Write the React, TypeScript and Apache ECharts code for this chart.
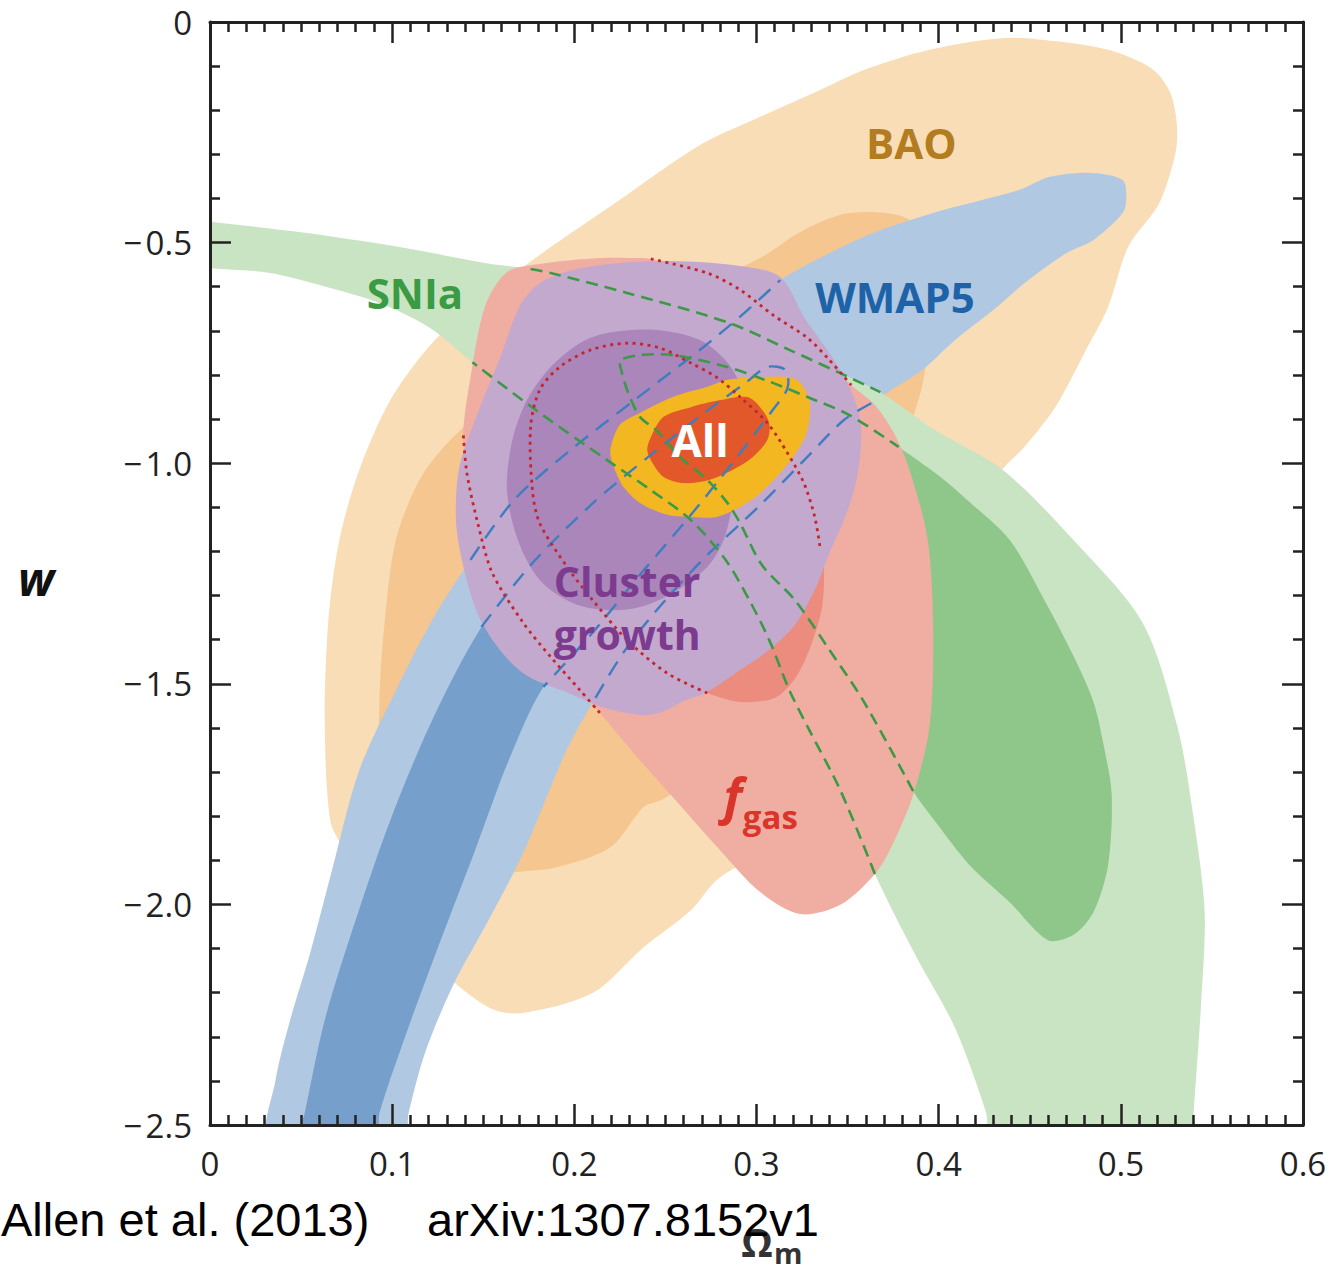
import React, { useEffect, useRef } from "react";
import * as echarts from "echarts";

type Pt = [number, number];

// Axis ranges and tick values
const xTicks = [0, 0.1, 0.2, 0.3, 0.4, 0.5, 0.6];
const yTicks = [0, -0.5, -1.0, -1.5, -2.0, -2.5];

// ---- BAO confidence regions (Omega_m, w) ----
const baoOuter: Pt[] = [
  [0.436, -0.036], [0.467, -0.045], [0.493, -0.063], [0.511, -0.091], [0.520, -0.116], [0.527, -0.159],
  [0.530, -0.206], [0.531, -0.256], [0.530, -0.297], [0.526, -0.358], [0.520, -0.419], [0.504, -0.510],
  [0.493, -0.646], [0.480, -0.750], [0.464, -0.873], [0.447, -0.963], [0.436, -1.009], [0.412, -1.129],
  [0.379, -1.355], [0.340, -1.673], [0.302, -1.877], [0.278, -1.945], [0.264, -2.013], [0.238, -2.097],
  [0.210, -2.201], [0.172, -2.246], [0.156, -2.239], [0.137, -2.187], [0.115, -2.103], [0.093, -1.990],
  [0.074, -1.877], [0.066, -1.809], [0.063, -1.582], [0.065, -1.355], [0.071, -1.174], [0.082, -1.015],
  [0.099, -0.857], [0.121, -0.732], [0.148, -0.630], [0.181, -0.528], [0.225, -0.403], [0.269, -0.279],
  [0.302, -0.215], [0.335, -0.154], [0.359, -0.109], [0.395, -0.063],
];
const baoInner: Pt[] = [
  [0.302, -0.535], [0.324, -0.476], [0.346, -0.437], [0.365, -0.431], [0.382, -0.444], [0.395, -0.494],
  [0.398, -0.630], [0.394, -0.750], [0.390, -0.841], [0.379, -0.970], [0.357, -1.174], [0.324, -1.423],
  [0.280, -1.673], [0.248, -1.763], [0.238, -1.779], [0.220, -1.870], [0.191, -1.915], [0.162, -1.929],
  [0.137, -1.945], [0.115, -1.945], [0.102, -1.899], [0.094, -1.763], [0.093, -1.537], [0.096, -1.355],
  [0.102, -1.174], [0.115, -1.038], [0.132, -0.947], [0.170, -0.811], [0.225, -0.675], [0.269, -0.596],
];

// ---- WMAP5 ----
const wmOuterLeftVisible: Pt[] = [
  [0.033, -2.534], [0.036, -2.398], [0.044, -2.262], [0.055, -2.110], [0.067, -1.922], [0.082, -1.695],
  [0.103, -1.507], [0.122, -1.355],
];
const wmOuterLeftHidden: Pt[] = [
  [0.143, -1.219], [0.167, -1.083], [0.198, -0.970], [0.233, -0.857], [0.269, -0.743], [0.294, -0.657],
  [0.313, -0.585],
];
const wmOuterTopArm: Pt[] = [
  [0.359, -0.487], [0.397, -0.433], [0.444, -0.381], [0.461, -0.351], [0.484, -0.342], [0.501, -0.358],
  [0.503, -0.397], [0.501, -0.433], [0.485, -0.494], [0.470, -0.524], [0.447, -0.592], [0.432, -0.646],
  [0.409, -0.721], [0.391, -0.789], [0.374, -0.834],
];
const wmOuterRightHidden: Pt[] = [
  [0.363, -0.864], [0.348, -0.902], [0.329, -0.981], [0.302, -1.095], [0.274, -1.204], [0.250, -1.310],
  [0.228, -1.423], [0.210, -1.543],
];
const wmOuterRightVisible: Pt[] = [
  [0.195, -1.657], [0.172, -1.883], [0.153, -2.035], [0.133, -2.187], [0.118, -2.337], [0.109, -2.473],
  [0.106, -2.534],
];
const wmInnerLeftVisible: Pt[] = [
  [0.049, -2.534], [0.052, -2.473], [0.063, -2.262], [0.080, -2.035], [0.099, -1.809], [0.122, -1.582],
];
const wmInnerHidden: Pt[] = [
  [0.149, -1.371], [0.176, -1.231], [0.209, -1.095], [0.242, -0.981], [0.272, -0.884], [0.294, -0.818],
  [0.306, -0.782], [0.316, -0.789], [0.317, -0.830], [0.309, -0.879], [0.288, -0.993], [0.264, -1.117],
  [0.236, -1.253], [0.209, -1.389], [0.183, -1.507],
];
const wmInnerRightVisible: Pt[] = [
  [0.164, -1.673], [0.145, -1.883], [0.124, -2.110], [0.107, -2.301], [0.093, -2.473], [0.091, -2.534],
];

// ---- SNIa ----
const snOuterUpperLeft: Pt[] = [
  [-0.011, -0.449], [0, -0.453], [0.049, -0.476], [0.104, -0.510], [0.151, -0.546],
];
const snOuterUpperHidden: Pt[] = [
  [0.176, -0.560], [0.187, -0.569], [0.229, -0.614], [0.285, -0.682], [0.318, -0.743], [0.346, -0.796],
  [0.368, -0.839],
];
const snOuterRight: Pt[] = [
  [0.398, -0.925], [0.435, -1.015], [0.474, -1.174], [0.512, -1.362], [0.531, -1.596], [0.540, -1.806],
  [0.546, -2.017], [0.544, -2.228], [0.540, -2.471], [0.539, -2.545], [0.430, -2.545], [0.426, -2.471],
  [0.409, -2.280], [0.388, -2.121],
];
const snOuterLowerHidden: Pt[] = [
  [0.365, -1.931], [0.346, -1.741], [0.329, -1.605], [0.318, -1.514], [0.307, -1.401], [0.296, -1.310],
  [0.283, -1.219], [0.264, -1.129], [0.242, -1.061], [0.218, -0.993], [0.181, -0.886], [0.144, -0.771],
];
const snOuterLowerLeft: Pt[] = [
  [0.121, -0.694], [0.093, -0.637], [0.066, -0.603], [0.033, -0.569], [0, -0.558], [-0.011, -0.555],
];
const snInnerHidden: Pt[] = [
  [0.386, -1.743], [0.359, -1.541], [0.340, -1.423], [0.321, -1.310], [0.303, -1.231], [0.291, -1.136],
  [0.284, -1.090], [0.273, -1.038], [0.258, -0.986], [0.245, -0.925], [0.236, -0.895], [0.229, -0.834],
  [0.225, -0.777], [0.225, -0.766], [0.236, -0.755], [0.254, -0.755], [0.284, -0.782], [0.309, -0.818],
  [0.328, -0.850], [0.351, -0.891], [0.378, -0.963],
];
const snInnerVisible: Pt[] = [
  [0.401, -1.031], [0.417, -1.088], [0.439, -1.174], [0.458, -1.310], [0.474, -1.437], [0.485, -1.541],
  [0.491, -1.648], [0.495, -1.752], [0.493, -1.911], [0.485, -2.017], [0.474, -2.069], [0.460, -2.081],
  [0.439, -1.995], [0.417, -1.911], [0.397, -1.806],
];

// ---- f_gas ----
const fgOuterVisibleTop: Pt[] = [[0.163, -0.567], [0.182, -0.548], [0.214, -0.535], [0.236, -0.535]];
const fgOuterHiddenTop: Pt[] = [
  [0.242, -0.537], [0.273, -0.569], [0.291, -0.607], [0.309, -0.664], [0.328, -0.716], [0.340, -0.766],
  [0.352, -0.823],
];
const fgOuterVisibleRight: Pt[] = [
  [0.365, -0.868], [0.376, -0.936], [0.384, -1.015], [0.394, -1.174], [0.397, -1.385], [0.395, -1.596],
  [0.386, -1.752], [0.374, -1.870], [0.365, -1.931], [0.346, -2.001], [0.324, -2.022], [0.302, -1.972],
  [0.280, -1.877], [0.258, -1.775], [0.236, -1.673], [0.214, -1.566],
];
const fgOuterHiddenLeft: Pt[] = [
  [0.203, -1.514], [0.187, -1.439], [0.172, -1.362], [0.155, -1.249], [0.147, -1.136], [0.141, -1.022],
  [0.139, -0.932],
];
const fgOuterVisibleLeft: Pt[] = [[0.143, -0.805], [0.151, -0.644]];
const fgInnerHidden: Pt[] = [
  [0.273, -1.521], [0.251, -1.476], [0.229, -1.401], [0.210, -1.310], [0.196, -1.235], [0.181, -1.136],
  [0.177, -1.061], [0.176, -0.918], [0.181, -0.834], [0.192, -0.782], [0.209, -0.743], [0.229, -0.728],
  [0.247, -0.739], [0.264, -0.773], [0.278, -0.805], [0.291, -0.850], [0.306, -0.909], [0.317, -0.977],
  [0.326, -1.045], [0.332, -1.122], [0.335, -1.194],
];
const fgInnerVisible: Pt[] = [
  [0.337, -1.226], [0.336, -1.326], [0.329, -1.423], [0.321, -1.489], [0.310, -1.532], [0.291, -1.541],
];

// ---- Cluster growth ----
const clOuter: Pt[] = [
  [0.170, -0.644], [0.181, -0.592], [0.199, -0.562], [0.225, -0.546], [0.258, -0.542], [0.291, -0.553],
  [0.313, -0.578], [0.327, -0.675], [0.340, -0.750], [0.351, -0.827], [0.357, -0.902], [0.357, -0.977],
  [0.354, -1.054], [0.348, -1.129], [0.340, -1.204], [0.332, -1.287], [0.321, -1.367], [0.307, -1.423],
  [0.291, -1.469], [0.272, -1.521], [0.260, -1.539], [0.248, -1.564], [0.237, -1.571], [0.217, -1.555],
  [0.198, -1.523], [0.174, -1.482], [0.159, -1.423], [0.147, -1.342], [0.139, -1.233], [0.135, -1.129],
  [0.137, -1.006], [0.147, -0.886], [0.159, -0.764],
];
const clInner: Pt[] = [
  [0.203, -0.728], [0.218, -0.705], [0.245, -0.698], [0.269, -0.721], [0.285, -0.777], [0.294, -0.857],
  [0.296, -0.970], [0.294, -1.038], [0.287, -1.099], [0.282, -1.174], [0.273, -1.235], [0.254, -1.294],
  [0.236, -1.326], [0.218, -1.333], [0.199, -1.317], [0.181, -1.265], [0.169, -1.174], [0.163, -1.061],
  [0.166, -0.947], [0.174, -0.857], [0.187, -0.782],
];

// ---- All (combined) ----
const allOuter: Pt[] = [
  [0.220, -0.963], [0.225, -0.913], [0.236, -0.886], [0.254, -0.850], [0.273, -0.827], [0.284, -0.811],
  [0.300, -0.805], [0.318, -0.805], [0.324, -0.818], [0.329, -0.857], [0.329, -0.902], [0.326, -0.947],
  [0.320, -0.986], [0.313, -1.022], [0.302, -1.068], [0.291, -1.099], [0.278, -1.122], [0.265, -1.122],
  [0.251, -1.117], [0.236, -1.090], [0.227, -1.054], [0.223, -1.022], [0.220, -0.986],
];
const allInner: Pt[] = [
  [0.240, -0.970], [0.242, -0.941], [0.249, -0.895], [0.264, -0.873], [0.280, -0.857], [0.295, -0.850],
  [0.302, -0.873], [0.307, -0.909], [0.306, -0.947], [0.298, -0.986], [0.287, -1.015], [0.274, -1.038],
  [0.260, -1.045], [0.249, -1.031], [0.243, -1.000],
];

// Region names and anchor points
const labelTexts = ["BAO", "WMAP5", "SNIa", "Cluster", "growth", "All", "f", "gas"];
const labelAnchors: Pt[] = [
  [0.385, -0.274], [0.376, -0.623], [0.1125, -0.614], [0.229, -1.268], [0.229, -1.388],
  [0.269, -0.947], [0.287, -1.752], [0.2925, -1.800],
];

const labelStyle: Record<string, { color: string; size: number; italic?: boolean; align?: string }> = {
  BAO: { color: "#B27C1F", size: 42 },
  WMAP5: { color: "#1E63A8", size: 42 },
  SNIa: { color: "#3B9B45", size: 42 },
  Cluster: { color: "#7C3B8F", size: 41 },
  growth: { color: "#7C3B8F", size: 41 },
  All: { color: "#FFFFFF", size: 44 },
  f: { color: "#D9352B", size: 50, italic: true },
  gas: { color: "#D9352B", size: 33, align: "left" },
};

const FONT = '"Open Sans", "Noto Sans", sans-serif';

function fillSeries(pts: Pt[], fill: string, z: number) {
  return {
    type: "custom",
    coordinateSystem: "cartesian2d",
    clip: true,
    silent: true,
    z,
    data: pts,
    renderItem: (params: any, api: any) => {
      if (params.dataIndex !== 0) return null;
      const points = pts.map((p) => api.coord(p));
      return {
        type: "polygon",
        shape: { points, smooth: 0.3 },
        style: { fill, stroke: "none" },
      };
    },
  };
}

function lineSeries(pts: Pt[], stroke: string, dash: number[], width: number, z: number) {
  return {
    type: "custom",
    coordinateSystem: "cartesian2d",
    clip: true,
    silent: true,
    z,
    data: pts,
    renderItem: (params: any, api: any) => {
      if (params.dataIndex !== 0) return null;
      const points = pts.map((p) => api.coord(p));
      return {
        type: "polyline",
        shape: { points, smooth: 0.3 },
        style: { fill: "none", stroke, lineWidth: width, lineDash: dash, lineCap: "butt" },
      };
    },
  };
}

function axisCommon(extra: any) {
  return {
    type: "value",
    z: 50,
    axisLine: { show: true, onZero: false, lineStyle: { color: "#222", width: 3 } },
    axisTick: { show: true, inside: true, length: 21, lineStyle: { color: "#222", width: 2.5 } },
    splitLine: { show: false },
    minorSplitLine: { show: false },
    ...extra,
  };
}

const fmtX = (v: number) => (Math.abs(v) < 1e-9 ? "0" : v.toFixed(1));
const fmtY = (v: number) => (Math.abs(v) < 1e-9 ? "0" : "\u2212\u200A" + Math.abs(v).toFixed(1));

const tickLabel = { color: "#222", fontFamily: FONT, fontSize: 33 };

function centeredText(text: string, x: number, y: number, font: string, fill: string, align = "center") {
  return {
    type: "text",
    x,
    y,
    style: {
      text,
      fill,
      font,
      textAlign: align,
      textVerticalAlign: "middle",
      align,
      verticalAlign: "middle",
    },
  };
}

function buildOption() {
  const wmOuter = [...wmOuterLeftVisible, ...wmOuterLeftHidden, ...wmOuterTopArm, ...wmOuterRightHidden, ...wmOuterRightVisible];
  const wmInner = [...wmInnerLeftVisible, ...wmInnerHidden, ...wmInnerRightVisible];
  const snOuter = [...snOuterUpperLeft, ...snOuterUpperHidden, ...snOuterRight, ...snOuterLowerHidden, ...snOuterLowerLeft];
  const snInner = [...snInnerHidden, ...snInnerVisible];
  const fgOuter = [...fgOuterVisibleTop, ...fgOuterHiddenTop, ...fgOuterVisibleRight, ...fgOuterHiddenLeft, ...fgOuterVisibleLeft];
  const fgInner = [...fgInnerHidden, ...fgInnerVisible];

  const blue = "#3F7DC0";
  const green = "#3A9A46";
  const red = "#C4262E";
  const minorX = { show: true, splitNumber: 10, length: 10, lineStyle: { color: "#222", width: 2.5 } };
  const minorY = { show: true, splitNumber: 5, length: 10, lineStyle: { color: "#222", width: 2.5 } };

  return {
    animation: false,
    backgroundColor: "#ffffff",
    grid: { left: 210, top: 22, right: 29, bottom: 147, containLabel: false },
    xAxis: [
      axisCommon({
        position: "bottom",
        min: xTicks[0],
        max: xTicks[xTicks.length - 1],
        interval: 0.1,
        minorTick: minorX,
        axisLabel: { ...tickLabel, margin: 22, formatter: fmtX },
      }),
      axisCommon({
        position: "top",
        min: xTicks[0],
        max: xTicks[xTicks.length - 1],
        interval: 0.1,
        minorTick: minorX,
        axisLabel: { show: false },
      }),
    ],
    yAxis: [
      axisCommon({
        position: "left",
        min: yTicks[yTicks.length - 1],
        max: yTicks[0],
        interval: 0.5,
        minorTick: minorY,
        axisLabel: { ...tickLabel, margin: 18, formatter: fmtY },
      }),
      axisCommon({
        position: "right",
        min: yTicks[yTicks.length - 1],
        max: yTicks[0],
        interval: 0.5,
        minorTick: minorY,
        axisLabel: { show: false },
      }),
    ],
    series: [
      fillSeries(baoOuter, "#F9DDB6", 1),
      fillSeries(baoInner, "#F5C690", 2),
      fillSeries(wmOuter, "#B1C8E2", 3),
      fillSeries(wmInner, "#769FCB", 4),
      fillSeries(snOuter, "#C9E4C3", 5),
      fillSeries(snInner, "#8FC78A", 6),
      fillSeries(fgOuter, "#F0ADA1", 7),
      fillSeries(fgInner, "#EC8C7F", 8),
      fillSeries(clOuter, "#C3A9CE", 9),
      fillSeries(clInner, "#AA86BB", 10),
      fillSeries(allOuter, "#F3B722", 11),
      fillSeries(allInner, "#E2582B", 12),
      // covered parts of the contours, drawn as outlines on top
      lineSeries(wmOuterLeftHidden, blue, [16, 10], 2.4, 20),
      lineSeries(wmOuterRightHidden, blue, [16, 10], 2.4, 20),
      lineSeries(wmInnerHidden, blue, [16, 10], 2.4, 20),
      lineSeries(snOuterUpperHidden, green, [12, 7], 2.6, 21),
      lineSeries(snOuterLowerHidden, green, [12, 7], 2.6, 21),
      lineSeries(snInnerHidden, green, [12, 7], 2.6, 21),
      lineSeries(fgOuterHiddenTop, red, [3, 4.5], 2.8, 22),
      lineSeries([fgOuterVisibleRight[fgOuterVisibleRight.length - 1], ...fgOuterHiddenLeft], red, [3, 4.5], 2.8, 22),
      lineSeries(fgInnerHidden, red, [3, 4.5], 2.8, 22),
      {
        type: "custom",
        coordinateSystem: "cartesian2d",
        silent: true,
        z: 30,
        data: labelAnchors,
        renderItem: (params: any, api: any) => {
          const text = labelTexts[params.dataIndex];
          const st = labelStyle[text];
          const [x, y] = api.coord(labelAnchors[params.dataIndex]);
          return centeredText(
            text,
            x,
            y,
            `${st.italic ? "italic " : ""}700 ${st.size}px ${FONT}`,
            st.color,
            st.align || "center"
          );
        },
      },
    ],
    graphic: [
      centeredText("w", 36, 578, `italic 700 46px ${FONT}`, "#111"),
      centeredText("\u03A9", 757, 1241, `700 40px ${FONT}`, "#333"),
      centeredText("m", 774, 1252, `700 29px ${FONT}`, "#333", "left"),
      centeredText("Allen et al. (2013)", 1, 1219, `400 47px "Liberation Sans", Arial, sans-serif`, "#000", "left"),
      centeredText("arXiv:1307.8152v1", 427, 1219, `400 47px "Liberation Sans", Arial, sans-serif`, "#000", "left"),
    ],
  };
}

export default function App() {
  const ref = useRef<HTMLDivElement>(null);
  useEffect(() => {
    if (!ref.current) return;
    const chart = echarts.init(ref.current, undefined, { renderer: "svg" });
    chart.setOption(buildOption() as any);
    return () => chart.dispose();
  }, []);
  return (
    <div
      ref={ref}
      style={{ position: "fixed", left: 0, top: 0, width: 1332, height: 1272, background: "#fff" }}
    />
  );
}
